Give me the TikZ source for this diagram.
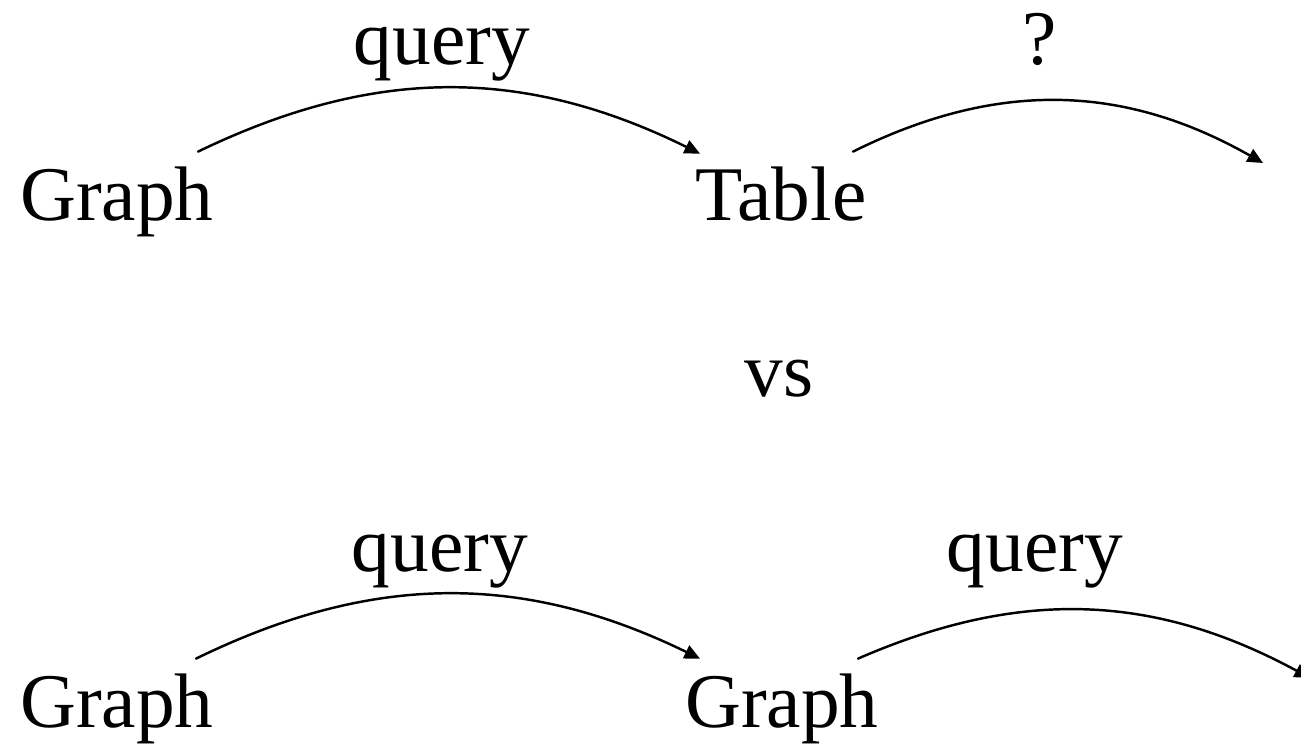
\documentclass[tikz,border=0pt]{standalone}
\usepackage{fontspec}
\setmainfont{Liberation Serif}
\usepackage{tikz}
\usetikzlibrary{arrows.meta}

\begin{document}
\begin{tikzpicture}[
  >={Triangle[length=4.4pt,width=4pt]},
  line cap=round,
  line join=round,
  every node/.style={font=\fontsize{22}{26}\selectfont, inner sep=0pt},
  arc/.style={->, line width=0.7pt}
]
  \useasboundingbox (0,0) rectangle (13.01,-7.46);

  % Graph to table
  \node[anchor=base] (graphA) at (1.17,-2.21) {Graph};
  \node[anchor=base] (tableA) at (7.81,-2.21) {Table};
  \coordinate (endA) at (12.63,-1.63);
  \draw[arc] ([shift={(0.81,0.15)}]graphA.north) to[bend left=26]
    ([shift={(-0.81,0.13)}]tableA.north);
  \draw[arc] ([shift={(0.72,0.15)}]tableA.north) to[bend left=28] (endA);
  \node[anchor=base] (queryA) at (4.42,-0.65) {query};
  \node[anchor=base] (askA) at (10.40,-0.65) {?};

  \node[anchor=base] (versus) at (7.79,-3.97) {vs};

  % Graph to graph
  \node[anchor=base] (graphB) at (1.17,-7.28) {Graph};
  \node[anchor=base] (graphC) at (7.82,-7.28) {Graph};
  \coordinate (endB) at (13.10,-6.78);
  \draw[arc] ([shift={(0.79,0.15)}]graphB.north) to[bend left=26]
    ([shift={(-0.82,0.15)}]graphC.north);
  \draw[arc] ([shift={(0.76,0.15)}]graphC.north) to[bend left=26] (endB);
  \node[anchor=base] (queryB) at (4.40,-5.72) {query};
  \node[anchor=base] (queryC) at (10.35,-5.72) {query};
\end{tikzpicture}
\end{document}
